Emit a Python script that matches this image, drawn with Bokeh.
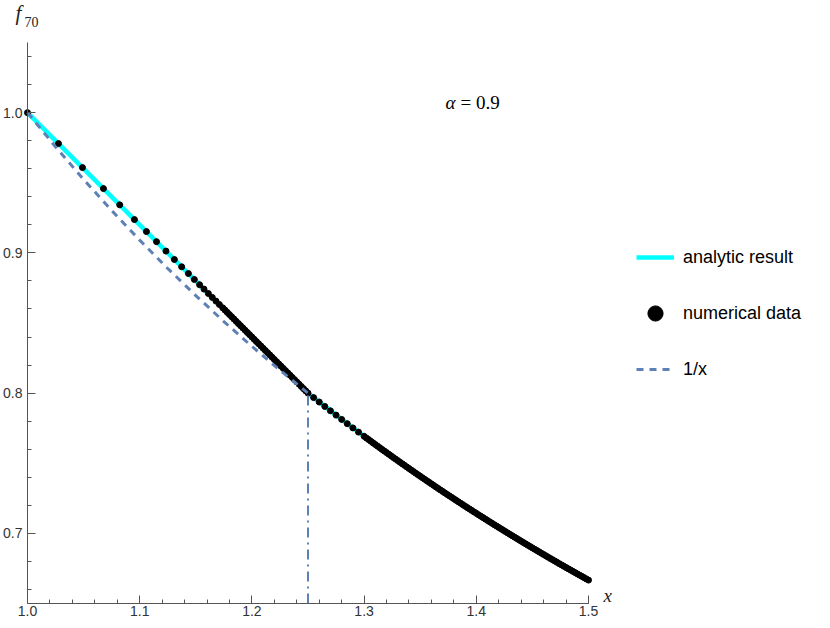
from bokeh.plotting import figure
from bokeh.models import Range1d, SingleIntervalTicker, PrintfTickFormatter, Label, Legend, LegendItem
from bokeh.embed import file_html
from bokeh.resources import INLINE

# analytic result: straight segment up to x=1.25, then 1/x
analytic_x = [1.0, 1.25, 1.275, 1.3, 1.325, 1.35, 1.375, 1.4, 1.425, 1.45, 1.475, 1.5]
analytic_y = [1.0, 0.8, 0.784314, 0.769231, 0.754717, 0.740741, 0.727273, 0.714286,
              0.701754, 0.689655, 0.677966, 0.666667]

# 1/x reference curve (dashed)
inv_x = [1.0, 1.025, 1.05, 1.075, 1.1, 1.125, 1.15, 1.175, 1.2, 1.225, 1.25]
inv_y = [1.0, 0.97561, 0.952381, 0.930233, 0.909091, 0.888889, 0.869565, 0.851064,
         0.833333, 0.816327, 0.8]

# numerical data points
num_x = [1.0, 1.0276, 1.049, 1.0677, 1.0822, 1.0953, 1.106, 1.115, 1.1234, 1.1309,
         1.1374, 1.1434, 1.1487, 1.1534, 1.1573, 1.1612, 1.1647, 1.168, 1.171, 1.174,
         1.176, 1.178, 1.18, 1.182, 1.184, 1.186, 1.188, 1.19, 1.192, 1.194, 1.196, 1.198,
         1.2, 1.202, 1.204, 1.206, 1.208, 1.21, 1.212, 1.214, 1.216, 1.218, 1.22, 1.222,
         1.224, 1.226, 1.228, 1.23, 1.232, 1.234, 1.236, 1.238, 1.24, 1.242, 1.244, 1.246,
         1.248, 1.25,
         1.255, 1.26, 1.265, 1.27, 1.275, 1.28, 1.285, 1.29, 1.295, 1.3,
         1.304, 1.308, 1.312, 1.316, 1.32, 1.324, 1.328, 1.332, 1.336, 1.34,
         1.344, 1.348, 1.352, 1.356, 1.36, 1.364, 1.368, 1.372, 1.376, 1.38,
         1.384, 1.388, 1.392, 1.396, 1.4, 1.404, 1.408, 1.412, 1.416, 1.42,
         1.424, 1.428, 1.432, 1.436, 1.44, 1.444, 1.448, 1.452, 1.456, 1.46,
         1.464, 1.468, 1.472, 1.476, 1.48, 1.484, 1.488, 1.492, 1.496, 1.5]
num_y = [1.0, 0.97792, 0.9608, 0.94584, 0.93424, 0.92376, 0.9152, 0.908, 0.90128, 0.89528,
         0.89008, 0.88528, 0.88104, 0.87728, 0.87416, 0.87104, 0.86824, 0.8656, 0.8632, 0.8608,
         0.8592, 0.8576, 0.856, 0.8544, 0.8528, 0.8512, 0.8496, 0.848, 0.8464, 0.8448, 0.8432, 0.8416,
         0.84, 0.8384, 0.8368, 0.8352, 0.8336, 0.832, 0.8304, 0.8288, 0.8272, 0.8256, 0.824, 0.8224,
         0.8208, 0.8192, 0.8176, 0.816, 0.8144, 0.8128, 0.8112, 0.8096, 0.808, 0.8064, 0.8048, 0.8032,
         0.8016, 0.8,
         0.796813, 0.793651, 0.790514, 0.787402, 0.784314, 0.78125, 0.77821, 0.775194, 0.772201, 0.769231,
         0.766871, 0.764526, 0.762195, 0.759878, 0.757576, 0.755287, 0.753012, 0.750751, 0.748503, 0.746269,
         0.744048, 0.74184, 0.739645, 0.737463, 0.735294, 0.733138, 0.730994, 0.728863, 0.726744, 0.724638,
         0.722543, 0.720461, 0.718391, 0.716332, 0.714286, 0.712251, 0.710227, 0.708215, 0.706215, 0.704225,
         0.702247, 0.70028, 0.698324, 0.696379, 0.694444, 0.692521, 0.690608, 0.688705, 0.686813, 0.684932,
         0.68306, 0.681199, 0.679348, 0.677507, 0.675676, 0.673854, 0.672043, 0.670241, 0.668449, 0.666667]
num_mid_x = [1.302, 1.306, 1.31, 1.314, 1.318, 1.322, 1.326, 1.33, 1.334, 1.338,
             1.342, 1.346, 1.35, 1.354, 1.358, 1.362, 1.366, 1.37, 1.374, 1.378,
             1.382, 1.386, 1.39, 1.394, 1.398, 1.402, 1.406, 1.41, 1.414, 1.418,
             1.422, 1.426, 1.43, 1.434, 1.438, 1.442, 1.446, 1.45, 1.454, 1.458,
             1.462, 1.466, 1.47, 1.474, 1.478, 1.482, 1.486, 1.49, 1.494, 1.498]
num_mid_y = [0.768049, 0.765697, 0.763359, 0.761035, 0.758725, 0.75643, 0.754148, 0.75188, 0.749625, 0.747384,
             0.745156, 0.742942, 0.740741, 0.738552, 0.736377, 0.734214, 0.732064, 0.729927, 0.727802, 0.725689,
             0.723589, 0.721501, 0.719424, 0.71736, 0.715308, 0.713267, 0.711238, 0.70922, 0.707214, 0.705219,
             0.703235, 0.701262, 0.699301, 0.69735, 0.69541, 0.693481, 0.691563, 0.689655, 0.687758, 0.685871,
             0.683995, 0.682128, 0.680272, 0.678426, 0.67659, 0.674764, 0.672948, 0.671141, 0.669344, 0.667557]

# vertical marker at the kink
kink_x = [1.25, 1.25]
kink_y = [0.65, 0.8]

BLUE = "#5E81B5"

# frame fills the whole canvas; axes are pinned at x=1.0 / y=0.65
p = figure(width=828, height=626,
           x_range=Range1d(0.975936, 1.713904), y_range=Range1d(0.6336, 1.079947),
           output_backend="svg", toolbar_location=None,
           min_border_left=0, min_border_right=0, min_border_top=0, min_border_bottom=0)

p.outline_line_color = None
p.grid.visible = False
p.background_fill_color = "white"
p.border_fill_color = "white"

p.xaxis.fixed_location = 0.65
p.yaxis.fixed_location = 1.0
p.xaxis.bounds = (1.0, 1.5)
p.yaxis.bounds = (0.65, 1.05)

for ax in (p.xaxis[0], p.yaxis[0]):
    ax.ticker = SingleIntervalTicker(interval=0.1, num_minor_ticks=5)
    ax.formatter = PrintfTickFormatter(format="%.1f")
    ax.axis_line_color = "#555555"
    ax.major_tick_line_color = "#555555"
    ax.minor_tick_line_color = "#555555"
    ax.major_tick_in = 8
    ax.major_tick_out = 0
    ax.minor_tick_in = 4
    ax.minor_tick_out = 0
    ax.major_label_text_font = "Liberation Sans"
    ax.major_label_text_font_size = "14px"
    ax.major_label_text_color = "#333333"
p.yaxis.major_label_standoff = 5
p.xaxis.major_label_standoff = 3

r_an = p.line(analytic_x, analytic_y, line_color="#00FFFF", line_width=4.5)
r_num = p.scatter(num_x + num_mid_x, num_y + num_mid_y, size=6,
                  fill_color="black", line_color="black")
r_inv = p.line(inv_x, inv_y, line_color=BLUE, line_width=3, line_dash="7 6")
p.line(kink_x, kink_y, line_color=BLUE, line_width=2, line_dash="10 5 2 5")

legend = Legend(items=[LegendItem(label="analytic result", renderers=[r_an]),
                       LegendItem(label="numerical data", renderers=[r_num]),
                       LegendItem(label="1/x", renderers=[r_inv])],
                location=(636, 238), orientation="vertical",
                glyph_width=38, glyph_height=38, label_height=38, spacing=18,
                padding=0, margin=0, label_standoff=9,
                label_text_font="Liberation Sans", label_text_font_size="18px",
                label_text_color="black",
                border_line_color=None, background_fill_alpha=0)
p.add_layout(legend)

p.add_layout(Label(x=0.989305, y=1.062834, text="f", text_font="Liberation Serif",
                   text_font_style="italic", text_font_size="21px", text_color="#222222"))
p.add_layout(Label(x=0.997326, y=1.061408, text="70", text_font="Liberation Serif",
                   text_font_size="14px", text_color="#222222"))
p.add_layout(Label(x=1.513369, y=0.647861, text="x", text_font="Liberation Serif",
                   text_font_style="italic", text_font_size="19px", text_color="#222222"))
p.add_layout(Label(x=1.372549, y=1.007219, text="α", text_font="Liberation Serif",
                   text_font_style="italic", text_font_size="19px", text_baseline="middle",
                   text_color="black"))
p.add_layout(Label(x=1.385918, y=1.007219, text="= 0.9", text_font="Liberation Serif",
                   text_font_size="19px", text_baseline="middle", text_color="black"))

open("out.html", "w").write(file_html(p, INLINE))
